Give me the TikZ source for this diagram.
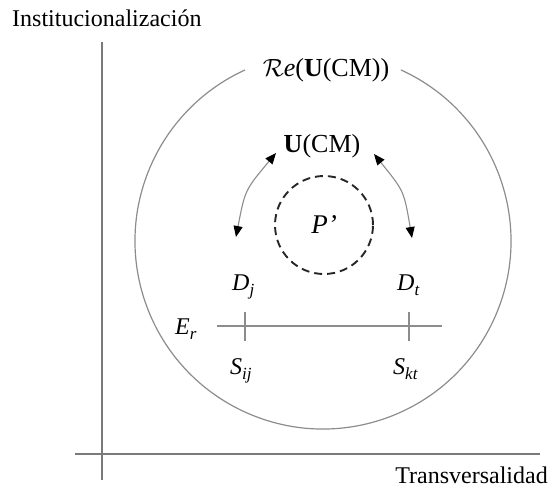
\documentclass[tikz,border=0pt]{standalone}
\usepackage{fontspec}
\setmainfont{Liberation Serif}
\usetikzlibrary{arrows.meta}
\definecolor{axisgray}{HTML}{7A7A7A}
\definecolor{linegray}{HTML}{8C8C8C}
\definecolor{dashblack}{HTML}{262626}
\newcommand\lsub[1]{\raisebox{-5pt}{\fontsize{17}{20}\selectfont\textit{#1}}}
\begin{document}
\begin{tikzpicture}[x=1pt,y=-1pt,
  lbl/.style={inner sep=0pt, font=\fontsize{24}{28}\selectfont},
  biglbl/.style={inner sep=0pt, font=\fontsize{26}{30}\selectfont},
  axisline/.style={draw=axisgray, line width=1.4pt},
  thinline/.style={draw=linegray, line width=1.2pt},
  dblarrow/.style={draw=linegray, line width=1.1pt,
     {Triangle[length=11pt,width=9pt,color=black]}-{Triangle[length=11pt,width=9pt,color=black]}},
  dashcircle/.style={circle, draw=dashblack, line width=1.9pt, dash pattern=on 8pt off 5pt,
     minimum size=98pt, inner sep=0pt, font=\fontsize{27}{32}\selectfont}
]
\useasboundingbox (0,0) rectangle (549,491);
% axes
\coordinate (vtop) at (102,42);
\coordinate (vbot) at (102,480);
\coordinate (hleft) at (75,454);
\coordinate (hright) at (540,454);
\draw[axisline] (vtop) -- (vbot);
\draw[axisline] (hleft) -- (hright);
\node[lbl, anchor=west] (ylab) at (12,18) {Institucionalización};
\node[lbl, anchor=east] (xlab) at (548,475) {Transversalidad};
% big circle with gap for label
\coordinate (cc) at (323,241);
\draw[thinline] (cc) ++(294.5:188) arc[start angle=294.5, end angle=605.5, radius=188];
\node[biglbl] (re) at (326,70) {$\mathcal{R}$\textit{e}(\textbf{U}(CM))};
% inner items
\node[biglbl] (ucm) at (322,146) {\textbf{U}(CM)};
\node[dashcircle] (P) at (324,225) {\textit{P’}};
\coordinate (la) at (276,153);
\coordinate (lb) at (236,237);
\coordinate (lc) at (245,190);
\coordinate (ra) at (374,154);
\coordinate (rb) at (412,238);
\coordinate (rc) at (404,191);
\draw[dblarrow] (la) .. controls (lc) .. (lb);
\draw[dblarrow] (ra) .. controls (rc) .. (rb);
\node[lbl, anchor=base west] (Dj) at (232,290) {\textit{D}\lsub{j}};
\node[lbl, anchor=base west] (Dt) at (397,290) {\textit{D}\lsub{t}};
\node[lbl, anchor=base west] (Er) at (175,334) {\textit{E}\lsub{r}};
\node[lbl, anchor=base west] (Sij) at (230,374) {\textit{S}\lsub{ij}};
\node[lbl, anchor=base west] (Skt) at (393,374) {\textit{S}\lsub{kt}};
% E_r line and ticks
\coordinate (el) at (217,326);
\coordinate (er) at (442,326);
\coordinate (t1a) at (245,312);
\coordinate (t1b) at (245,341);
\coordinate (t2a) at (409,312);
\coordinate (t2b) at (409,341);
\draw[thinline] (el) -- (er);
\draw[thinline] (t1a) -- (t1b);
\draw[thinline] (t2a) -- (t2b);
\end{tikzpicture}
\end{document}
